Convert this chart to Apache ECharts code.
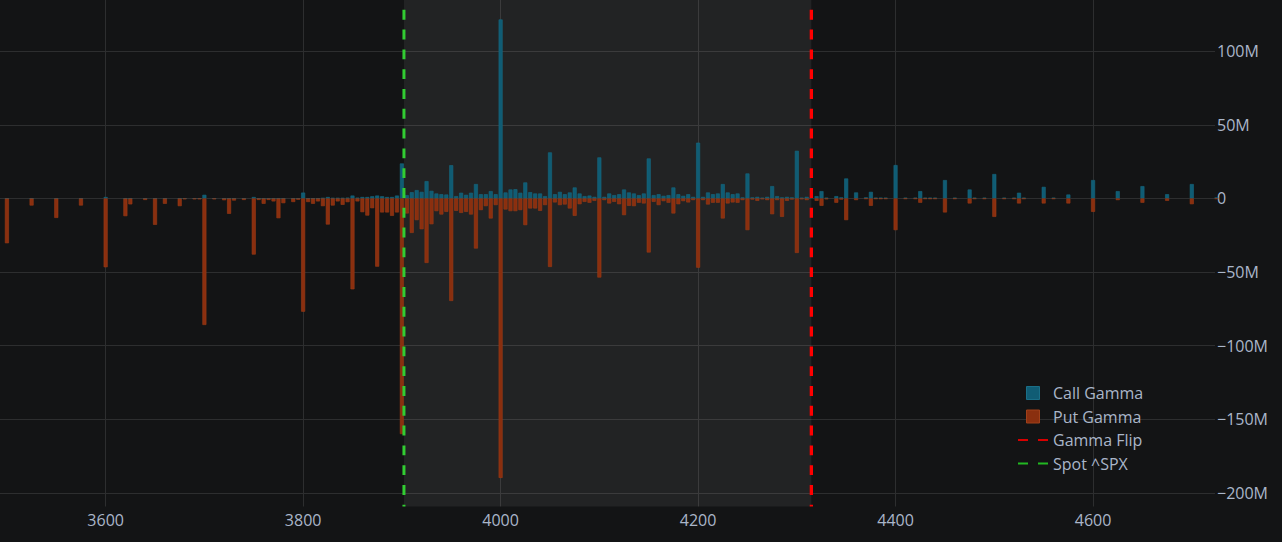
<!DOCTYPE html>
<html>
<head>
<meta charset="utf-8">
<script src="https://cdn.jsdelivr.net/npm/echarts@6/dist/echarts.min.js"></script>
<style>
html,body{margin:0;padding:0;background:#131415;}
#c{width:1282px;height:542px;}
</style>
</head>
<body>
<div id="c"></div>
<script>
// Strikes (SPX) and gamma exposure in millions
const strikes = [3500,3525,3550,3575,3600,3620,3625,3640,3650,3660,3675,3680,3690,3695,3700,3710,3720,3725,3730,3740,3750,3755,3760,3765,3770,3775,3780,3790,3795,3800,3805,3810,3815,3820,3825,3830,3835,3840,3845,3850,3855,3860,3865,3870,3875,3880,3885,3890,3895,3900,3905,3910,3915,3920,3925,3930,3935,3940,3945,3950,3955,3960,3965,3970,3975,3980,3985,3990,3995,4000,4005,4010,4015,4020,4025,4030,4035,4040,4045,4050,4055,4060,4065,4070,4075,4080,4085,4090,4095,4100,4105,4110,4115,4120,4125,4130,4135,4140,4145,4150,4155,4160,4165,4170,4175,4180,4185,4190,4195,4200,4205,4210,4215,4220,4225,4230,4235,4240,4245,4250,4255,4260,4265,4270,4275,4280,4285,4290,4295,4300,4305,4310,4320,4325,4330,4340,4345,4350,4360,4370,4375,4380,4385,4390,4400,4410,4420,4425,4430,4435,4440,4450,4460,4475,4480,4490,4500,4510,4520,4525,4530,4550,4560,4575,4600,4625,4650,4675,4700,4725];
const callGamma = [0,0,0,0,1.0,0,0,0,0,0,0,0,0,0,2.5,0,0,0,0,0,1.0,0,0,0,0,0,0,0,0,4.0,0,0,0,0.3,1.0,0.3,0.3,0.3,0.5,2.0,0.5,1.0,1.0,1.5,2.0,1.5,1.0,1.0,2.0,23.8,2.3,4.3,5.7,4.5,11.8,5.2,3.4,2.9,2.7,22.6,1.6,3.9,2.5,3.9,9.8,2.9,2.9,5.0,2.9,121.6,4.1,6.1,6.3,3.9,10.9,4.3,3.4,3.4,1.6,31.3,2.9,4.5,2.9,4.1,7.5,3.4,1.6,2.0,1.1,27.9,1.1,3.4,2.3,2.9,6.1,4.1,3.4,2.3,3.4,27.2,2.3,2.9,1.8,2.3,7.5,2.9,1.8,2.9,1.1,37.9,1.1,4.1,2.9,3.4,9.8,4.1,2.9,3.4,0.7,17.0,0.7,1.1,0.5,1.1,8.4,1.6,0.7,1.1,0.7,32.4,0.5,1.1,1.6,5.0,0.5,1.6,0.7,13.6,4.1,0.7,4.5,0.5,0.5,0.5,22.7,0.5,0.5,5.0,0.5,0.5,0.5,12.5,0.5,6.1,0.5,0.5,16.6,0.5,0.5,3.9,0.5,7.9,0.5,2.7,12.5,5.0,8.4,2.9,9.8,0.7];
const putGamma = [-30.4,-4.8,-13.2,-4.8,-46.7,-12,-4,-1,-17.9,-3.6,-5.2,-0.5,-0.5,-0.5,-85.9,-0.5,-1.2,-10.4,-1.4,-1,-38.1,-1,-3.6,-1,-2,-13.4,-3.2,-2.4,-0.8,-76.9,-2.4,-3.6,-2,-5.2,-17.7,-4.8,-2,-4.3,-2.5,-61.7,-2,-9.3,-11.6,-6.6,-46.3,-9.5,-9.5,-11.8,-9.5,-160,-10.2,-23.4,-14.7,-20.9,-43.8,-17.5,-8.6,-10.9,-9.1,-69.6,-8.4,-9.8,-9.1,-10.9,-34,-7.9,-5.2,-13.6,-4.5,-189.8,-7.5,-8.6,-8.6,-7.9,-18.1,-6.8,-6.8,-8.4,-4.5,-46.5,-2.7,-4.5,-4.1,-6.8,-11.8,-3.9,-2.3,-2.9,-1.6,-53.7,-1.1,-3.4,-2.3,-3.9,-11.3,-5.0,-5.2,-2.9,-3.4,-36.7,-2.3,-4.5,-1.8,-2.9,-10.2,-3.9,-1.8,-2.7,-1.1,-47,-1.1,-4.1,-2.9,-2.9,-13.6,-3.4,-2.7,-2.9,-1.1,-21.5,-0.7,-1.6,-0.5,-1.1,-10.7,-1.1,-12.5,-1.6,-0.7,-37,-0.5,-1.1,-1.6,-5.0,-0.5,-2.9,-0.7,-14.7,-1.1,-0.3,-5.0,-0.3,-0.3,-0.3,-21.5,-0.3,-0.3,-2.9,-0.3,-0.3,-0.3,-9.5,-0.3,-3.4,-0.3,-0.3,-12.5,-0.3,-0.3,-3.4,-0.3,-3.4,-0.3,-3.4,-9.1,-1.1,-2.9,-1.6,-3.9,-0.3];
const spotPrice = 3902.1;
const gammaFlip = 4314.7;
const xRange = [3493, 4723.5];
const yRange = [-209.2, 134.8];
const xTickStep = 200;
const yTickStep = 50;

const CALL = '#105c74', PUT = '#8a2f0f', RED = '#ff0000', GREEN = '#32cd32';
const TXT = '#aab6c9';

const chart = echarts.init(document.getElementById('c'), null, {renderer: 'svg'});
const callData = strikes.map((s, i) => [s, callGamma[i]]);
const putData = strikes.map((s, i) => [s, putGamma[i]]);

chart.setOption({
  animation: false,
  backgroundColor: '#131415',
  textStyle: {fontFamily: 'Open Sans'},
  grid: {left: 0, right: 67, top: 0, bottom: 35.5, containLabel: false},
  xAxis: {
    type: 'value', min: xRange[0], max: xRange[1],
    minInterval: xTickStep, maxInterval: xTickStep,
    axisLine: {show: false}, axisTick: {show: false},
    axisLabel: {color: TXT, fontSize: 16, margin: 5, showMinLabel: false, showMaxLabel: false, fontFamily: 'Open Sans',
      formatter: v => String(v)},
    splitLine: {show: true, showMinLine: false, showMaxLine: false, lineStyle: {color: '#2d2e2f', width: 1}}
  },
  yAxis: {
    type: 'value', position: 'right', min: yRange[0], max: yRange[1],
    minInterval: yTickStep, maxInterval: yTickStep,
    axisLine: {show: false}, axisTick: {show: false},
    axisLabel: {color: TXT, fontSize: 16, margin: 2, showMinLabel: false, showMaxLabel: false, fontFamily: 'Open Sans',
      formatter: v => v === 0 ? '0' : (v < 0 ? '\u2212' + Math.abs(v) + 'M' : v + 'M')},
    splitLine: {show: true, showMinLine: false, showMaxLine: false, lineStyle: {color: '#2d2e2f', width: 1}}
  },
  legend: {
    orient: 'vertical', left: 1013, top: 380,
    itemWidth: 30, itemHeight: 13, itemGap: 7.5,
    textStyle: {color: TXT, fontSize: 16, lineHeight: 16, fontFamily: 'Open Sans'},
    data: [
      {name: 'Call Gamma', icon: 'path://M0,0h13v13h-13z', itemStyle: {color: CALL, borderColor: '#1a6f88', borderWidth: 1}},
      {name: 'Put Gamma', icon: 'path://M0,0h13v13h-13z', itemStyle: {color: PUT, borderColor: '#a0401a', borderWidth: 1}},
      {name: 'Gamma Flip', icon: 'path://M0,0h10v2h-10zM20,0h10v2h-10z', itemStyle: {color: '#d80000', borderWidth: 0}},
      {name: 'Spot ^SPX', icon: 'path://M0,0h10v2h-10zM20,0h10v2h-10z', itemStyle: {color: '#22b822', borderWidth: 0}}
    ]
  },
  series: [
    {
      name: 'Call Gamma', type: 'bar', stack: 'g', barWidth: 4, z: 3, data: callData,
      itemStyle: {color: CALL, borderColor: '#16687f', borderWidth: 0.6}
    },
    {
      name: 'Put Gamma', type: 'bar', stack: 'g', barWidth: 4, z: 3, data: putData,
      itemStyle: {color: PUT, borderColor: '#9a3a16', borderWidth: 0.6}
    },
    {
      name: 'Gamma Flip', type: 'line', z: 5, symbol: 'none', silent: true,
      data: [[gammaFlip, yRange[1]], [gammaFlip, yRange[0]]],
      lineStyle: {color: RED, width: 3.3, type: [9.9, 9.9], dashOffset: 9.9},
      markArea: {
        silent: true,
        itemStyle: {color: 'rgba(255,255,255,0.065)'},
        data: [[{xAxis: spotPrice, yAxis: yRange[0]}, {xAxis: gammaFlip, yAxis: yRange[1]}]]
      }
    },
    {
      name: 'Spot ^SPX', type: 'line', z: 5, symbol: 'none', silent: true,
      data: [[spotPrice, yRange[1]], [spotPrice, yRange[0]]],
      lineStyle: {color: GREEN, width: 3, type: [9.9, 9.9], dashOffset: 9.9}
    }
  ]
});
</script>
</body>
</html>
